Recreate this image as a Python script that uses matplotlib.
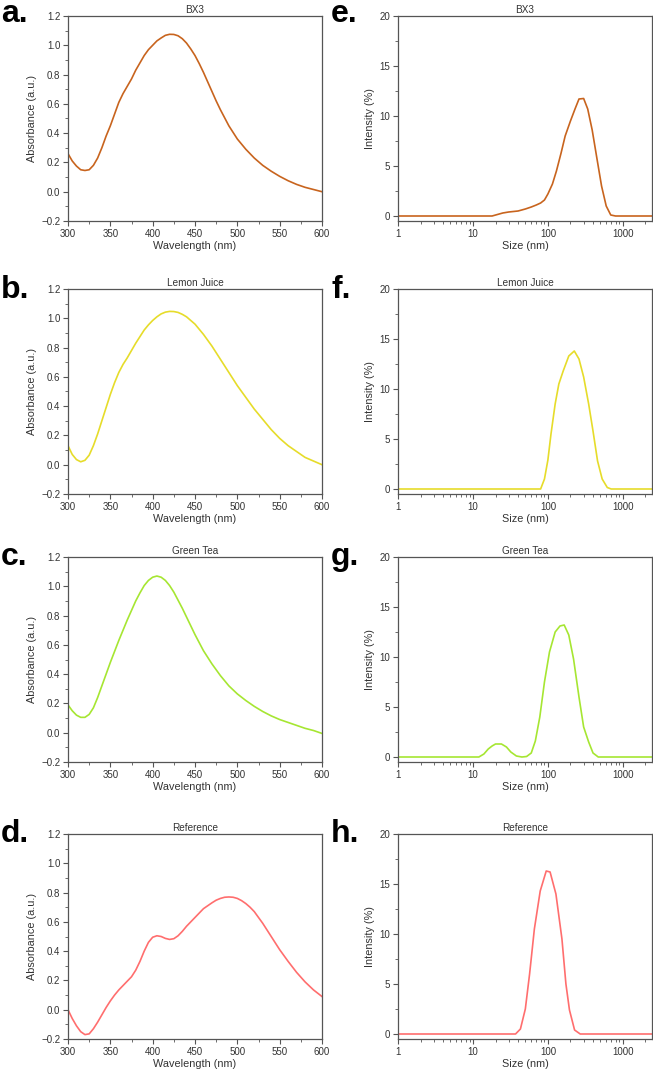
import numpy as np
import matplotlib.pyplot as plt
from matplotlib.ticker import MultipleLocator, FixedLocator, LogLocator, NullFormatter

plt.rcParams['font.family'] = ['Liberation Sans', 'DejaVu Sans']

names = ['BX3', 'Lemon Juice', 'Green Tea', 'Reference']
colors = ['#C8641E', '#E6DC2A', '#A6E632', '#FF6E6E']
uv_letters = ['a.', 'b.', 'c.', 'd.']
dls_letters = ['e.', 'f.', 'g.', 'h.']

# UV-vis absorbance
wl_bx3 = [300, 305, 310, 315, 320, 325, 330, 335, 340, 345, 350, 355, 360, 365, 370, 375, 380, 385, 390,
          395, 400, 405, 410, 415, 420, 425, 430, 435, 440, 445, 450, 455, 460, 465, 470, 475, 480, 490,
          500, 510, 520, 530, 540, 550, 560, 570, 580, 590, 600]
abs_bx3 = [0.26, 0.21, 0.175, 0.15, 0.145, 0.15, 0.18, 0.23, 0.30, 0.38, 0.45, 0.53, 0.61, 0.67, 0.72, 0.77,
           0.83, 0.88, 0.93, 0.97, 1.00, 1.03, 1.05, 1.068, 1.075, 1.074, 1.065, 1.045, 1.015, 0.975, 0.93,
           0.875, 0.815, 0.75, 0.685, 0.62, 0.56, 0.45, 0.36, 0.29, 0.23, 0.18, 0.14, 0.105, 0.075, 0.05,
           0.03, 0.015, 0.0]
wl_lemon = [300, 305, 310, 315, 320, 325, 330, 335, 340, 345, 350, 355, 360, 365, 370, 375, 380, 385, 390,
            395, 400, 405, 410, 415, 420, 425, 430, 435, 440, 445, 450, 460, 470, 480, 490, 500, 510, 520,
            530, 540, 550, 560, 570, 580, 590, 600]
abs_lemon = [0.13, 0.07, 0.035, 0.02, 0.03, 0.065, 0.13, 0.21, 0.30, 0.39, 0.48, 0.56, 0.63, 0.685, 0.73,
             0.78, 0.83, 0.875, 0.92, 0.955, 0.985, 1.01, 1.03, 1.042, 1.047, 1.046, 1.04, 1.027, 1.01, 0.985,
             0.96, 0.89, 0.81, 0.72, 0.63, 0.54, 0.46, 0.38, 0.31, 0.24, 0.18, 0.13, 0.09, 0.05, 0.025, 0.0]
wl_tea = [300, 305, 310, 315, 320, 325, 330, 335, 340, 345, 350, 355, 360, 365, 370, 375, 380, 385, 390,
          395, 400, 405, 410, 415, 420, 425, 430, 435, 440, 445, 450, 455, 460, 470, 480, 490, 500, 510,
          520, 530, 540, 550, 560, 570, 580, 590, 600]
abs_tea = [0.19, 0.15, 0.12, 0.105, 0.105, 0.125, 0.17, 0.24, 0.32, 0.40, 0.48, 0.555, 0.63, 0.70, 0.77,
           0.835, 0.90, 0.955, 1.005, 1.04, 1.062, 1.07, 1.062, 1.04, 1.005, 0.96, 0.905, 0.85, 0.79, 0.73,
           0.67, 0.615, 0.56, 0.47, 0.39, 0.32, 0.265, 0.22, 0.18, 0.145, 0.115, 0.09, 0.07, 0.05, 0.03,
           0.015, -0.005]
wl_ref = [300, 305, 310, 315, 320, 325, 330, 335, 340, 345, 350, 355, 360, 365, 370, 375, 380, 385, 390,
          395, 400, 405, 410, 415, 420, 425, 430, 435, 440, 445, 450, 455, 460, 465, 470, 475, 480, 485,
          490, 495, 500, 505, 510, 515, 520, 525, 530, 535, 540, 545, 550, 560, 570, 580, 590, 600]
abs_ref = [0.0, -0.06, -0.11, -0.15, -0.17, -0.165, -0.13, -0.085, -0.035, 0.015, 0.06, 0.10, 0.135, 0.165,
           0.195, 0.225, 0.27, 0.33, 0.40, 0.46, 0.495, 0.505, 0.50, 0.487, 0.48, 0.485, 0.505, 0.535, 0.57,
           0.60, 0.63, 0.66, 0.69, 0.71, 0.73, 0.748, 0.76, 0.768, 0.77, 0.768, 0.76, 0.745, 0.725, 0.70,
           0.67, 0.63, 0.59, 0.545, 0.50, 0.455, 0.41, 0.33, 0.255, 0.19, 0.135, 0.09]

# DLS size distributions
size_bx3 = [1, 18, 25, 30, 40, 50, 60, 70, 80, 90, 100, 115, 130, 150, 170, 200, 230, 260, 300,
            340, 390, 450, 520, 600, 690, 800, 2450]
int_bx3 = [0, 0, 0.3, 0.4, 0.5, 0.7, 0.9, 1.1, 1.3, 1.6, 2.2, 3.2, 4.5, 6.3, 8.0, 9.5, 10.7, 11.7, 11.75,
           10.7, 8.6, 5.8, 3.0, 1.0, 0.1, 0.0, 0]
size_lemon = [1, 80, 90, 100, 110, 125, 140, 160, 190, 225, 260, 300, 350, 400, 460, 530, 620, 700, 2450]
int_lemon = [0, 0, 1.0, 2.9, 5.5, 8.5, 10.5, 11.8, 13.3, 13.8, 13.0, 11.2, 8.5, 5.8, 2.8, 1.0, 0.15, 0, 0]
size_tea = [1, 12, 14, 16, 18, 20, 24, 28, 32, 38, 45, 52, 60, 68, 78, 90, 105, 125, 145, 165,
            190, 220, 260, 300, 350, 400, 470, 2450]
int_tea = [0, 0, 0.3, 0.8, 1.1, 1.3, 1.3, 1.0, 0.5, 0.1, 0.0, 0.05, 0.4, 1.6, 4.0, 7.5, 10.5, 12.5, 13.1, 13.2,
           12.2, 9.8, 6.0, 3.0, 1.5, 0.4, 0.0, 0]
size_ref = [1, 37, 43, 50, 57, 66, 79, 95, 107, 128, 154, 174, 194, 227, 270, 2450]
int_ref = [0, 0, 0.5, 2.5, 6.0, 10.5, 14.3, 16.3, 16.2, 14.0, 9.5, 5.0, 2.4, 0.4, 0, 0]

uv = [(wl_bx3, abs_bx3), (wl_lemon, abs_lemon), (wl_tea, abs_tea), (wl_ref, abs_ref)]
dls = [(size_bx3, int_bx3), (size_lemon, int_lemon), (size_tea, int_tea), (size_ref, int_ref)]

W, H = 653, 1073
fig = plt.figure(figsize=(W / 100, H / 100), dpi=100)

tops = [16, 289, 557, 834]
baselines = [22, 298, 565, 842]
ax_h = 205
ax_w = 254
lefts = [68, 398]
spine_c = '#555555'
txt_c = '#333333'


def style(ax):
    for s in ax.spines.values():
        s.set_color(spine_c)
        s.set_linewidth(0.9)
    ax.tick_params(which='both', direction='out', colors=spine_c, labelcolor=txt_c,
                   labelsize=7, top=False, right=False, pad=2)
    ax.tick_params(which='major', length=3.5, width=0.8)
    ax.tick_params(which='minor', length=2, width=0.6)


for i in range(4):
    y0 = 1 - (tops[i] + ax_h) / H
    # UV-vis
    ax = fig.add_axes([lefts[0] / W, y0, ax_w / W, ax_h / H])
    ax.plot(uv[i][0], uv[i][1], color=colors[i], lw=1.2)
    ax.set_xlim(300, 600)
    ax.set_ylim(-0.2, 1.2)
    ax.xaxis.set_major_locator(MultipleLocator(50))
    ax.xaxis.set_minor_locator(MultipleLocator(25))
    ax.yaxis.set_major_locator(MultipleLocator(0.2))
    ax.yaxis.set_minor_locator(MultipleLocator(0.1))
    ax.yaxis.set_major_formatter(lambda v, p: f'{v:.1f}'.replace('-', '\u2212'))
    style(ax)
    ax.set_xlabel('Wavelength (nm)', fontsize=7.8, color=txt_c, labelpad=2)
    ax.set_ylabel('Absorbance (a.u.)', fontsize=7.8, color=txt_c, labelpad=3)
    ax.set_title(names[i], fontsize=7.2, color=txt_c, pad=2)
    fig.text(1 / W, 1 - baselines[i] / H, uv_letters[i], fontsize=23, fontweight='bold',
             ha='left', va='baseline')

    # DLS
    ax = fig.add_axes([lefts[1] / W, y0, ax_w / W, ax_h / H])
    ax.plot(dls[i][0], dls[i][1], color=colors[i], lw=1.2)
    ax.set_xscale('log')
    ax.set_xlim(1, 2450)
    ax.set_ylim(-0.5, 20)
    ax.xaxis.set_major_locator(FixedLocator([1, 10, 100, 1000]))
    ax.xaxis.set_major_formatter(lambda v, p: f'{v:g}')
    ax.xaxis.set_minor_locator(LogLocator(base=10, subs=np.arange(2, 10), numticks=20))
    ax.xaxis.set_minor_formatter(NullFormatter())
    ax.yaxis.set_major_locator(MultipleLocator(5))
    ax.yaxis.set_minor_locator(MultipleLocator(2.5))
    style(ax)
    ax.set_xlabel('Size (nm)', fontsize=7.8, color=txt_c, labelpad=2)
    ax.set_ylabel('Intensity (%)', fontsize=7.8, color=txt_c, labelpad=3)
    ax.set_title(names[i], fontsize=7.2, color=txt_c, pad=2)
    fig.text(331 / W, 1 - baselines[i] / H, dls_letters[i], fontsize=23, fontweight='bold',
             ha='left', va='baseline')

fig.savefig('out.png', dpi=100)
